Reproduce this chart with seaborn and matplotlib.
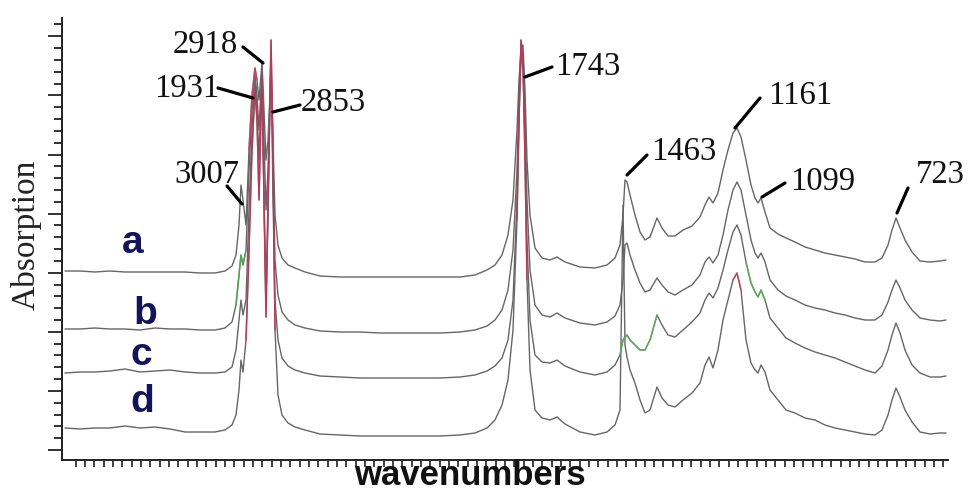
import numpy as np
import pandas as pd
import matplotlib
matplotlib.use("Agg")
import matplotlib.pyplot as plt
import seaborn as sns
from matplotlib.ticker import FixedLocator

# ---------------- data (arbitrary units) ----------------
position = [65, 80, 95, 110, 125, 140, 155, 170, 185, 200, 215, 225, 232, 236, 239, 241, 243, 246, 249, 252,
            255, 257, 259, 262, 264, 266, 268, 271, 273, 275, 278, 282, 288, 295, 305, 320, 340, 360, 380, 400,
            420, 440, 460, 475, 487, 495, 502, 508, 513, 517, 519, 521, 523, 525, 527, 530, 535, 542, 550, 557,
            565, 580, 595, 607, 615, 620, 623, 625, 627, 630, 635, 640, 645, 650, 657, 662, 668, 675, 683, 692,
            700, 705, 709, 713, 718, 723, 728, 733, 737, 741, 746, 751, 755, 758, 761, 765, 770, 778, 786, 795,
            805, 815, 825, 835, 845, 855, 865, 875, 882, 888, 892, 896, 900, 905, 912, 920, 930, 940, 946]

sample_a = [189, 189, 188, 189, 188, 188, 188, 188, 188, 187, 187, 189, 194, 205, 235, 275, 260, 235, 310, 365,
            392, 380, 360, 398, 350, 300, 320, 388, 320, 245, 215, 202, 195, 192, 188, 184, 183, 183, 183, 183,
            183, 183, 183, 185, 190, 195, 205, 225, 260, 330, 380, 410, 415, 370, 300, 245, 212, 202, 200, 203,
            198, 193, 192, 195, 202, 215, 245, 280, 278, 265, 245, 228, 220, 223, 242, 232, 224, 224, 230, 234,
            243, 255, 263, 257, 267, 290, 310, 327, 332, 323, 300, 275, 262, 257, 262, 248, 232, 226, 222, 218,
            213, 210, 207, 205, 203, 201, 198, 198, 202, 215, 230, 242, 232, 220, 208, 199, 198, 199, 200]

sample_b = [131, 131, 132, 131, 131, 130, 132, 131, 131, 130, 130, 132, 138, 155, 185, 205, 195, 210, 290, 350,
            385, 365, 330, 392, 320, 250, 290, 400, 290, 200, 165, 148, 140, 135, 132, 129, 128, 128, 127, 127,
            127, 127, 128, 130, 134, 140, 150, 170, 210, 290, 360, 400, 405, 350, 260, 190, 155, 145, 143, 147,
            142, 137, 135, 138, 144, 155, 180, 215, 217, 205, 190, 177, 168, 170, 182, 175, 168, 165, 170, 175,
            185, 198, 203, 197, 205, 225, 250, 270, 278, 270, 245, 220, 207, 202, 207, 198, 180, 170, 164, 160,
            155, 152, 150, 147, 145, 142, 140, 140, 145, 158, 170, 180, 172, 160, 150, 142, 140, 139, 140]

sample_c = [87, 88, 88, 89, 91, 88, 89, 90, 88, 87, 87, 88, 93, 110, 140, 160, 145, 160, 250, 330,
            380, 350, 300, 390, 260, 160, 240, 410, 260, 160, 120, 102, 94, 90, 87, 84, 83, 82, 82, 82,
            82, 82, 83, 85, 89, 94, 102, 120, 160, 260, 340, 412, 390, 320, 220, 140, 105, 98, 97, 100,
            94, 88, 85, 88, 95, 105, 120, 123, 125, 120, 115, 110, 110, 120, 145, 135, 125, 123, 130, 138,
            147, 160, 167, 162, 172, 190, 210, 228, 235, 225, 198, 177, 168, 163, 170, 160, 142, 132, 122, 117,
            112, 108, 105, 102, 98, 94, 90, 87, 94, 110, 125, 137, 127, 110, 95, 87, 83, 83, 84]

sample_d = [32, 31, 32, 32, 34, 32, 33, 31, 28, 28, 28, 30, 35, 45, 70, 100, 88, 120, 210, 310,
            370, 340, 260, 385, 260, 143, 260, 420, 310, 130, 65, 45, 37, 33, 30, 26, 25, 24, 24, 24,
            24, 24, 25, 27, 32, 40, 55, 80, 130, 240, 340, 420, 400, 300, 180, 90, 50, 42, 40, 43,
            36, 28, 25, 28, 35, 50, 255, 115, 103, 90, 77, 60, 47, 50, 73, 62, 55, 53, 60, 67,
            77, 95, 103, 92, 110, 140, 160, 180, 187, 170, 120, 97, 90, 87, 95, 88, 70, 60, 50, 47,
            42, 40, 35, 32, 30, 28, 26, 25, 30, 45, 60, 72, 63, 50, 38, 28, 26, 27, 27]

samples = ["a", "b", "c", "d"]
peak_labels = ["3007", "1931", "2918", "2853", "1743", "1463", "1161", "1099", "723"]

# ---------------- layout / styling ----------------
# leader line (start at peak, end at text) and text centre for each label
leader_layout = {
    "3007": ((242, 256), (227, 274), (207, 285)),
    "1931": ((253, 362), (218, 372), (187, 371)),
    "2918": ((263, 397), (243, 413), (205, 415)),
    "2853": ((273, 348), (300, 355), (333, 357)),
    "1743": ((525, 383), (552, 393), (588, 393)),
    "1463": ((627, 285), (647, 305), (684, 308)),
    "1161": ((735, 332), (760, 362), (800, 364)),
    "1099": ((762, 263), (785, 277), (823, 278)),
    "723":  ((897, 247), (908, 272), (940, 285)),
}
letter_layout = {"a": (133, 217), "b": (145, 146), "c": (141, 105), "d": (142, 58)}
highlights = [("a", 249, 257, "#d04060"), ("b", 236, 247, "#4caf50"),
              ("c", 619, 660, "#5cb85c"), ("c", 744, 766, "#5cb85c"),
              ("d", 246, 275, "#c8305a"), ("d", 515, 527, "#c8305a"),
              ("d", 733, 741, "#d04060")]

sns.set_theme(style="white")
plt.rcParams["font.family"] = ["Liberation Serif", "DejaVu Serif"]

df = pd.concat([pd.DataFrame({"position": position, "intensity": vals, "sample": s})
                for s, vals in zip(samples, [sample_a, sample_b, sample_c, sample_d])],
               ignore_index=True)

fig = plt.figure(figsize=(9.69, 4.93), dpi=100)
ax = fig.add_axes([62 / 969, 33 / 493, 886 / 969, 442 / 493])

sns.lineplot(data=df, x="position", y="intensity", hue="sample", estimator=None, sort=False,
             palette={s: "#666666" for s in samples}, linewidth=1.0, legend=False, ax=ax)

for s, lo, hi, col in highlights:
    sub = df[(df["sample"] == s) & (df["position"] >= lo) & (df["position"] <= hi)]
    sns.lineplot(data=sub, x="position", y="intensity", estimator=None, sort=False,
                 color=col, linewidth=1.1, alpha=0.8, legend=False, ax=ax)

for lab in peak_labels:
    p0, p1, tpos = leader_layout[lab]
    ax.annotate("", xy=p0, xytext=p1,
                arrowprops=dict(arrowstyle="-", lw=2.3, color="black", shrinkA=0, shrinkB=0))
    ax.text(tpos[0], tpos[1], lab, ha="center", va="center", fontsize=23.5,
            family=["Liberation Serif"], color="#111111", clip_on=False)

for s in samples:
    x, y = letter_layout[s]
    ax.text(x, y, s, ha="center", va="center", fontsize=28, fontweight="bold",
            family=["Liberation Sans"], color="#14145a")

ax.set_xlim(62, 948)
ax.set_ylim(0, 442)
ax.set_xlabel("")
ax.set_ylabel("")

ax.xaxis.set_major_locator(FixedLocator(np.arange(75.7, 947, 9.33)))
ax.yaxis.set_major_locator(FixedLocator(np.arange(10, 442, 59.1)))
ax.yaxis.set_minor_locator(FixedLocator(np.arange(10, 442, 11.82)))
ax.tick_params(axis="x", which="major", direction="out", length=5, width=1.2, color="#222222",
               bottom=True, labelbottom=False)
ax.tick_params(axis="y", which="major", direction="out", length=10, width=1.3, color="#222222",
               left=True, labelleft=False)
ax.tick_params(axis="y", which="minor", direction="out", length=5.5, width=1.3, color="#222222",
               left=True)
for side in ["top", "right"]:
    ax.spines[side].set_visible(False)
for side in ["left", "bottom"]:
    ax.spines[side].set_color("#222222")
    ax.spines[side].set_linewidth(1.4)

fig.text(26 / 969, 1 - 235 / 493, "Absorption", rotation=90, ha="center", va="center",
         fontsize=24, family=["Liberation Serif"], color="#222222")
fig.text(470 / 969, 1 - 485 / 493, "wavenumbers", ha="center", va="baseline",
         fontsize=25, fontweight="bold", family=["Liberation Sans"], color="#111111")

fig.savefig("out.png", dpi=100)
